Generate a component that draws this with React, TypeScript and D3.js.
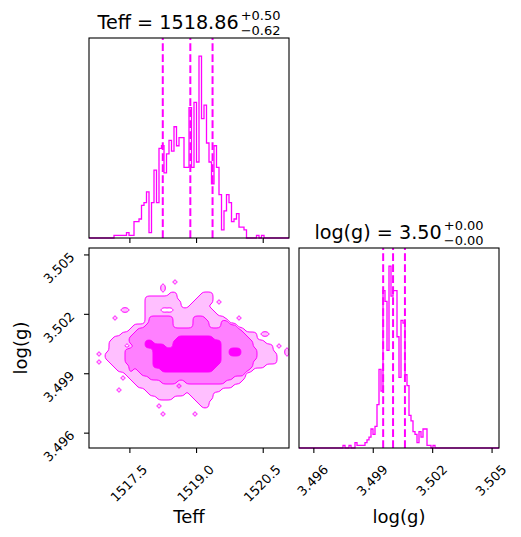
import { useLayoutEffect, useRef, useState } from 'react';
import * as d3 from 'd3';

// ---- data ----
const teffRange = [1516.58, 1521.08];
const loggRange = [3.49525, 3.50535];

const teffTicks = [1517.5, 1519.0, 1520.5];
const loggTicks = [3.496, 3.499, 3.502, 3.505];

// median, +err, -err
const teffSummary = [1518.86, 0.5, 0.62];
const loggSummary = [3.5, 0.0, 0.0];

const teffQuantiles = [1518.24, 1518.86, 1519.36];
const loggQuantiles = [3.4995, 3.5, 3.5006];

// 80 bins over teffRange
const teffCounts = [
  0, 0, 0, 0, 0, 0, 0, 0, 0, 0,
  1, 1, 1, 1, 1, 2, 1, 1, 6, 6,
  7, 12, 13, 17, 2, 13, 25, 13, 33, 34,
  24, 31, 36, 32, 41, 34, 37, 37, 26, 26,
  48, 26, 50, 28, 67, 44, 49, 35, 28, 20,
  34, 26, 16, 3, 10, 16, 13, 6, 7, 9,
  4, 4, 3, 0, 0, 0, 0, 1, 0, 1,
  0, 0, 0, 0, 0, 0, 0, 0, 0, 0,
];

// 100 bins over loggRange
const loggCounts = [
  0, 0, 0, 0, 0, 0, 0, 0, 0, 0,
  0, 0, 0, 0, 0, 0, 0, 0, 0, 0,
  0, 0, 1, 0, 0, 1, 0, 0, 2, 1,
  1, 1, 1, 2, 3, 4, 7, 5, 8, 16,
  29, 21, 58, 54, 36, 67, 56, 58, 58, 41,
  26, 47, 46, 27, 23, 12, 10, 6, 5, 2,
  6, 4, 7, 7, 1, 1, 0, 1, 0, 0,
  0, 0, 0, 0, 0, 0, 0, 0, 0, 0,
  0, 0, 0, 0, 0, 0, 0, 0, 0, 0,
  0, 0, 0, 0, 0, 0, 0, 0, 0, 0,
];

// 2D density levels on a 50x50 grid over teffRange x loggRange (row 0 = top)
// each entry: [row, firstCol, lastCol]
const gridSize = 50;
const lightSpans = [
  [8, 21, 21],
  [9, 18, 18], [10, 18, 18],
  [11, 20, 21], [11, 28, 30],
  [12, 14, 21], [12, 27, 30],
  [13, 14, 22], [13, 26, 30], [13, 32, 32],
  [14, 14, 22], [14, 25, 29],
  [15, 8, 9], [15, 14, 17], [15, 21, 30],
  [16, 14, 31],
  [17, 6, 6], [17, 14, 33], [17, 37, 37],
  [18, 14, 34],
  [19, 11, 36],
  [20, 10, 38],
  [21, 8, 41], [21, 43, 44],
  [22, 6, 41],
  [23, 5, 43],
  [24, 5, 8], [24, 10, 45], [24, 47, 47],
  [25, 5, 45], [25, 49, 49],
  [26, 2, 2], [26, 4, 46], [26, 49, 49],
  [27, 4, 46],
  [28, 2, 2], [28, 5, 46],
  [29, 6, 43],
  [30, 7, 40],
  [31, 9, 38],
  [32, 8, 8], [32, 10, 38],
  [33, 11, 37],
  [34, 12, 35],
  [35, 7, 7], [35, 14, 32],
  [36, 15, 23], [36, 25, 30],
  [37, 17, 20], [37, 26, 30],
  [38, 27, 29],
  [39, 17, 17], [39, 28, 29],
  [41, 18, 18], [41, 26, 26],
];
const mediumSpans = [
  [17, 15, 20], [17, 26, 28],
  [18, 15, 20], [18, 26, 29], [18, 33, 34],
  [19, 14, 20], [19, 26, 29], [19, 33, 36],
  [20, 12, 37],
  [21, 11, 38],
  [22, 10, 39],
  [23, 10, 40],
  [24, 11, 40],
  [25, 9, 41],
  [26, 9, 41],
  [27, 9, 41],
  [28, 9, 40],
  [29, 10, 40],
  [30, 10, 10], [30, 12, 39],
  [31, 13, 38],
  [32, 15, 35],
  [33, 18, 21], [33, 24, 33],
  [34, 22, 22],
];
const coreSpans = [
  [22, 22, 30],
  [23, 14, 15], [23, 21, 32],
  [24, 14, 18], [24, 21, 32],
  [25, 16, 32], [25, 35, 37],
  [26, 16, 32], [26, 35, 37],
  [27, 16, 32],
  [28, 16, 32],
  [29, 16, 31],
  [30, 18, 30],
];

// ---- layout ----
const W = 521;
const H = 537;
const FONT = 'DejaVu Sans';
const MAGENTA = '#ff00ff';
const bandFills = ['#ffbfff', '#ff80ff', '#ff00ff'];

const topLeft = { x0: 89, x1: 289, y0: 38, y1: 238 };
const botLeft = { x0: 89, x1: 289, y0: 248, y1: 448 };
const botRight = { x0: 299, x1: 499, y0: 248, y1: 448 };

const teffX = d3.scaleLinear().domain(teffRange).range([topLeft.x0, topLeft.x1]);
const loggX = d3.scaleLinear().domain(loggRange).range([botRight.x0, botRight.x1]);
const loggY = d3.scaleLinear().domain(loggRange).range([botLeft.y1, botLeft.y0]);
const teffHistY = d3.scaleLinear().domain([0, 1.1 * d3.max(teffCounts)!]).range([topLeft.y1, topLeft.y0]);
const loggHistY = d3.scaleLinear().domain([0, 1.1 * d3.max(loggCounts)!]).range([botRight.y1, botRight.y0]);

function stepPath(counts: number[], range: number[], x: (v: number) => number, y: (v: number) => number) {
  const n = counts.length;
  const w = (range[1] - range[0]) / n;
  const pts: [number, number][] = [[x(range[0]), y(0)]];
  counts.forEach((c, i) => {
    pts.push([x(range[0] + i * w), y(c)]);
    pts.push([x(range[0] + (i + 1) * w), y(c)]);
  });
  pts.push([x(range[1]), y(0)]);
  return d3.line()(pts) || '';
}

function buildContours() {
  const values = new Array(gridSize * gridSize).fill(0);
  const sets: [number[][], number][] = [[lightSpans, 1], [mediumSpans, 2], [coreSpans, 3]];
  sets.forEach(([spans, lvl]) => {
    spans.forEach(([r, a, b]) => {
      for (let c = a; c <= b; c++) {
        values[r * gridSize + c] = Math.max(values[r * gridSize + c], lvl);
      }
    });
  });
  const gen = d3.contours().size([gridSize, gridSize]).thresholds([0.5, 1.5, 2.5]);
  const gx = (u: number) => teffX(teffRange[0] + (u / gridSize) * (teffRange[1] - teffRange[0]));
  const gy = (v: number) => loggY(loggRange[1] - (v / gridSize) * (loggRange[1] - loggRange[0]));
  const smoothLine = d3.line().curve(d3.curveBasisClosed);
  const smallLine = d3.line().curve(d3.curveCatmullRomClosed.alpha(0.5));
  return gen(values).map((mp) =>
    mp.coordinates
      .map((poly) =>
        poly
          .map((ring) => {
            const pts = ring.slice(0, -1).map(([u, v]) => [gx(u), gy(v)] as [number, number]);
            return (pts.length > 8 ? smoothLine(pts) : smallLine(pts)) || '';
          })
          .join('')
      )
      .join('')
  );
}

function estWidth(label: string, fs: number) {
  let w = 0;
  for (const ch of label) w += ch === '.' ? 0.318 : 0.636;
  return w * fs;
}

const TICK_FS = 13;
const LABEL_FS = 18;
const TITLE_FS = 19.2;
const SCRIPT_FS = 13;

function XTicks({ ticks, x, y, labels, fmt }: { ticks: number[]; x: (v: number) => number; y: number; labels: boolean; fmt: (v: number) => string }) {
  return (
    <g>
      {ticks.map((t) => {
        const px = x(t);
        const lab = fmt(t);
        const half = ((estWidth(lab, TICK_FS) + 0.72 * TICK_FS) * 0.7071) / 2;
        return (
          <g key={t}>
            <line x1={px} x2={px} y1={y} y2={y + 5} stroke="#000" strokeWidth={1.1} />
            {labels && (
              <text
                transform={`translate(${px - 1},${y + 16 + half}) rotate(-45)`}
                textAnchor="middle"
                dominantBaseline="central"
                fontSize={TICK_FS}
                fontFamily={FONT}
              >
                {lab}
              </text>
            )}
          </g>
        );
      })}
    </g>
  );
}

function Title({ cx, y, name, summary }: { cx: number; y: number; name: string; summary: number[] }) {
  const mainRef = useRef<SVGTextElement>(null);
  const supRef = useRef<SVGTextElement>(null);
  const subRef = useRef<SVGTextElement>(null);
  const [widths, setWidths] = useState<[number, number]>([140, 40]);
  useLayoutEffect(() => {
    if (!mainRef.current || !supRef.current || !subRef.current) return;
    const m = mainRef.current.getComputedTextLength();
    const s = Math.max(supRef.current.getComputedTextLength(), subRef.current.getComputedTextLength());
    setWidths([m, s]);
  }, []);
  const gap = 2;
  const left = cx - (widths[0] + gap + widths[1]) / 2;
  const sx = left + widths[0] + gap;
  return (
    <g fontFamily={FONT}>
      <text ref={mainRef} x={left} y={y} fontSize={TITLE_FS}>
        {`${name} = ${summary[0].toFixed(2)}`}
      </text>
      <text ref={supRef} x={sx} y={y - 9} fontSize={SCRIPT_FS}>{`+${summary[1].toFixed(2)}`}</text>
      <text ref={subRef} x={sx} y={y + 5.5} fontSize={SCRIPT_FS}>{`\u2212${summary[2].toFixed(2)}`}</text>
    </g>
  );
}

export default function App() {
  const contourPaths = buildContours();
  const fmtTeff = (v: number) => v.toFixed(1);
  const fmtLogg = (v: number) => v.toFixed(3);

  return (
    <svg
      width={W}
      height={H}
      style={{ position: 'absolute', left: 0, top: 0, background: '#fff' }}
    >
      <defs>
        <clipPath id="clip2d">
          <rect x={botLeft.x0} y={botLeft.y0} width={botLeft.x1 - botLeft.x0} height={botLeft.y1 - botLeft.y0} />
        </clipPath>
      </defs>

      {/* Teff histogram */}
      <path d={stepPath(teffCounts, teffRange, teffX, teffHistY)} fill="none" stroke={MAGENTA} strokeWidth={1.3} />
      {teffQuantiles.map((q) => (
        <line
          key={q}
          x1={teffX(q)}
          x2={teffX(q)}
          y1={topLeft.y1}
          y2={topLeft.y0}
          stroke={MAGENTA}
          strokeWidth={2}
          strokeDasharray="7.7,3.3"
        />
      ))}
      <rect x={topLeft.x0} y={topLeft.y0} width={200} height={200} fill="none" stroke="#000" strokeWidth={1.1} />
      <XTicks ticks={teffTicks} x={teffX} y={topLeft.y1} labels={false} fmt={fmtTeff} />
      <Title cx={(topLeft.x0 + topLeft.x1) / 2} y={29} name="Teff" summary={teffSummary} />

      {/* 2D contours */}
      <g clipPath="url(#clip2d)">
        {contourPaths.map((d, i) => (
          <path key={`f${i}`} d={d} fill={bandFills[i]} fillRule="evenodd" stroke="none" />
        ))}
        {contourPaths.map((d, i) => (
          <path key={`s${i}`} d={d} fill="none" stroke={MAGENTA} strokeWidth={1} />
        ))}
      </g>
      <rect x={botLeft.x0} y={botLeft.y0} width={200} height={200} fill="none" stroke="#000" strokeWidth={1.1} />
      <XTicks ticks={teffTicks} x={teffX} y={botLeft.y1} labels={true} fmt={fmtTeff} />
      {loggTicks.map((t) => (
        <g key={t}>
          <line x1={botLeft.x0 - 5} x2={botLeft.x0} y1={loggY(t)} y2={loggY(t)} stroke="#000" strokeWidth={1.1} />
          <text
            transform={`translate(59,${loggY(t) + 13}) rotate(-45)`}
            textAnchor="middle"
            dominantBaseline="central"
            fontSize={TICK_FS}
            fontFamily={FONT}
          >
            {fmtLogg(t)}
          </text>
        </g>
      ))}
      <text x={(botLeft.x0 + botLeft.x1) / 2} y={523} textAnchor="middle" fontSize={LABEL_FS} fontFamily={FONT}>
        Teff
      </text>
      <text
        transform={`translate(27,${(botLeft.y0 + botLeft.y1) / 2}) rotate(-90)`}
        textAnchor="middle"
        fontSize={LABEL_FS}
        fontFamily={FONT}
      >
        log(g)
      </text>

      {/* log(g) histogram */}
      <path d={stepPath(loggCounts, loggRange, loggX, loggHistY)} fill="none" stroke={MAGENTA} strokeWidth={1.3} />
      {loggQuantiles.map((q) => (
        <line
          key={q}
          x1={loggX(q)}
          x2={loggX(q)}
          y1={botRight.y1}
          y2={botRight.y0}
          stroke={MAGENTA}
          strokeWidth={2}
          strokeDasharray="7.7,3.3"
        />
      ))}
      <rect x={botRight.x0} y={botRight.y0} width={200} height={200} fill="none" stroke="#000" strokeWidth={1.1} />
      <XTicks ticks={loggTicks} x={loggX} y={botRight.y1} labels={true} fmt={fmtLogg} />
      <text x={(botRight.x0 + botRight.x1) / 2} y={523} textAnchor="middle" fontSize={LABEL_FS} fontFamily={FONT}>
        log(g)
      </text>
      <Title cx={(botRight.x0 + botRight.x1) / 2} y={239} name="log(g)" summary={loggSummary} />
    </svg>
  );
}
